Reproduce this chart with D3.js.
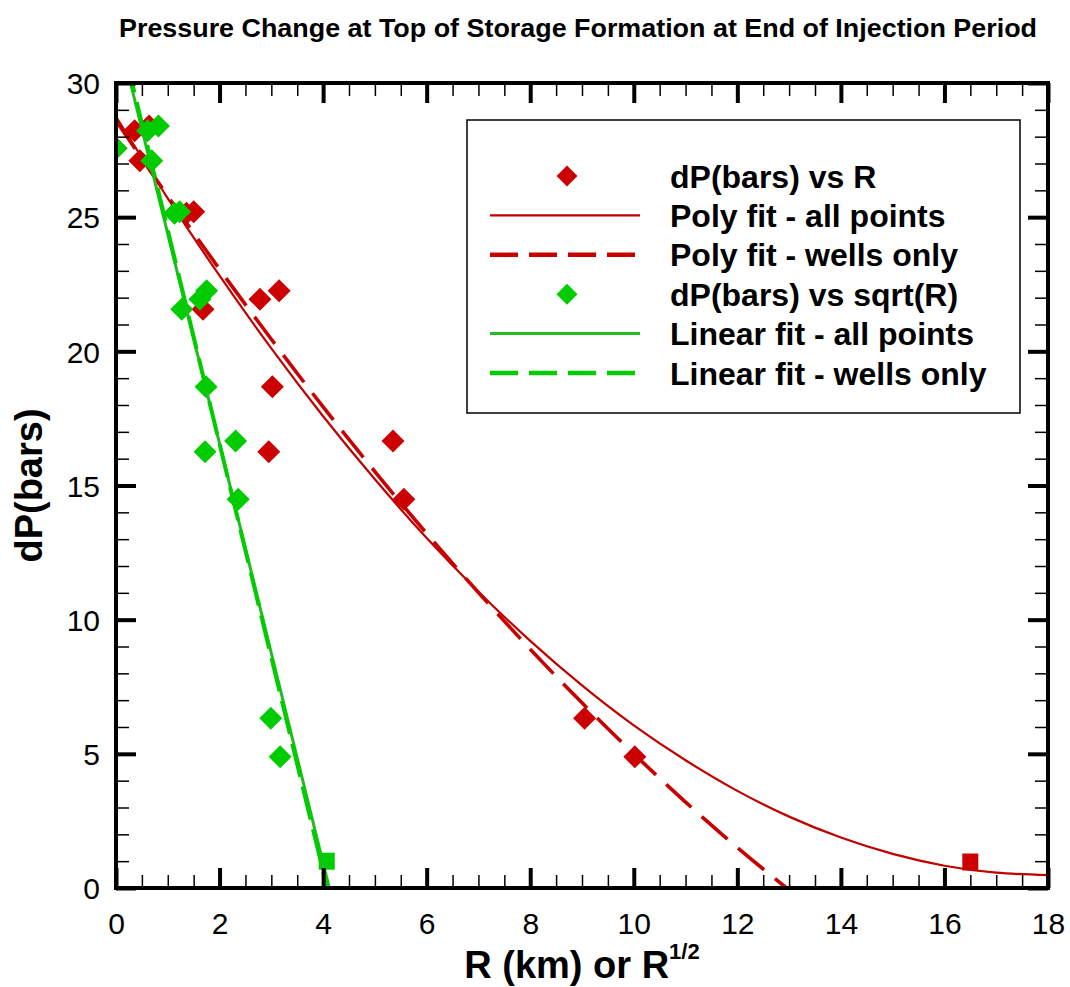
<!DOCTYPE html>
<html>
<head>
<meta charset="utf-8">
<script src="https://cdn.jsdelivr.net/npm/d3@7"></script>
<style>
  body { margin: 0; background: #fff; }
  svg { display: block; font-family: "Liberation Sans", Arial, Helvetica, sans-serif; }
</style>
</head>
<body>
<svg id="chart" width="1070" height="987"></svg>
<script>
// ---- measured pressure change vs distance R (km) ----
const wellR  = [0, 0.36, 0.64, 0.46, 1.36, 1.50, 1.68, 2.78, 3.15, 3.02, 2.95, 5.35, 5.56, 9.05, 10.02];
const wellDP = [27.57, 28.22, 28.40, 27.10, 25.15, 25.20, 21.57, 21.94, 22.26, 18.68, 16.26, 16.66, 14.49, 6.33, 4.89];
// same pressures plotted against sqrt(R)
const wellSqrtR = [0, 0.61, 0.82, 0.69, 1.13, 1.23, 1.27, 1.62, 1.75, 1.74, 1.72, 2.31, 2.36, 2.99, 3.17];
// far-field (non-well) point
const farR = [16.5],  farDP = [0.95];
const farSqrtR = [4.07], farSqrtDP = [0.98];

// polynomial fit through all points
const polyAllR  = [0, 1, 2, 3, 4, 5, 6, 7, 8, 9, 10, 11, 12, 13, 14, 15, 16, 17, 18];
const polyAllDP = [28.75, 25.70, 22.82, 20.11, 17.58, 15.23, 13.04, 11.04, 9.21, 7.55, 6.06, 4.76, 3.62, 2.66, 1.88, 1.27, 0.83, 0.57, 0.48];
// polynomial fit through wells only
const polyWellR  = [0, 1, 2, 3, 4, 5, 6, 7, 8, 9, 10, 11, 12, 12.95];
const polyWellDP = [28.60, 25.78, 23.06, 20.45, 17.93, 15.52, 13.21, 11.01, 8.90, 6.90, 5.00, 3.20, 1.51, 0.0];
// linear fits against sqrt(R)
const linAllX  = [0, 4.12],  linAllDP  = [32.19, 0];
const linWellX = [0, 4.08],  linWellDP = [32.47, 0];

// axis ticks
const xMajor = [0, 2, 4, 6, 8, 10, 12, 14, 16, 18];
const xMinor = d3.range(0, 18.01, 0.5).filter(v => v % 2 !== 0);
const yMajor = [0, 5, 10, 15, 20, 25, 30];
const yMinor = d3.range(0, 30.01, 1).filter(v => v % 5 !== 0);

const legendItems = [
  { label: "dP(bars) vs R",            kind: "mark", color: "#cc0000" },
  { label: "Poly fit - all points",    kind: "line", color: "#c00000", width: 2.2, dash: null },
  { label: "Poly fit - wells only",    kind: "line", color: "#c80000", width: 4.5, dash: "28,11" },
  { label: "dP(bars) vs sqrt(R)",      kind: "mark", color: "#00cc00" },
  { label: "Linear fit - all points",  kind: "line", color: "#22bb22", width: 3, dash: null },
  { label: "Linear fit - wells only",  kind: "line", color: "#00cc00", width: 4.5, dash: "28,11" }
];

const RED = "#cc0000", REDLINE = "#c00000", GREEN = "#00cc00";

const svg = d3.select("#chart");
const W = 1070, H = 987;
const L = 116, R = 1048, T = 83, B = 888;

const x = d3.scaleLinear().domain([0, 18]).range([L, R]);
const y = d3.scaleLinear().domain([0, 30]).range([B, T]);

svg.append("rect").attr("width", W).attr("height", H).attr("fill", "#fff");

// title
svg.append("text")
  .attr("x", 119).attr("y", 37)
  .attr("textLength", 918).attr("lengthAdjust", "spacingAndGlyphs")
  .attr("font-size", 25).attr("font-weight", "bold")
  .text("Pressure Change at Top of Storage Formation at End of Injection Period");

svg.append("defs").append("clipPath").attr("id", "plotClip")
  .append("rect").attr("x", L).attr("y", T).attr("width", R - L).attr("height", B - T);

const plot = svg.append("g").attr("clip-path", "url(#plotClip)");

const line = (xs, ys, curve) => d3.line()
  .x((d, i) => x(xs[i])).y((d, i) => y(ys[i]))
  .curve(curve || d3.curveLinear)(xs);

const diamond = d3.symbol().type(d3.symbolSquare).size(265);

function drawDiamonds(g, xs, ys, color) {
  g.selectAll(null).data(xs).join("path")
    .attr("d", diamond)
    .attr("transform", (d, i) => `translate(${x(xs[i])},${y(ys[i])}) rotate(45)`)
    .attr("fill", color);
}
function drawSquares(g, xs, ys, color) {
  g.selectAll(null).data(xs).join("rect")
    .attr("x", (d, i) => x(xs[i]) - 8).attr("y", (d, i) => y(ys[i]) - 9)
    .attr("width", 16).attr("height", 17)
    .attr("fill", color);
}

// red series: points vs R and polynomial fits
drawDiamonds(plot.append("g"), wellR, wellDP, RED);
drawSquares(plot.append("g"), farR, farDP, RED);
plot.append("path").attr("d", line(polyAllR, polyAllDP, d3.curveNatural))
  .attr("fill", "none").attr("stroke", REDLINE).attr("stroke-width", 2.2);
plot.append("path").attr("d", line(polyWellR, polyWellDP, d3.curveNatural))
  .attr("fill", "none").attr("stroke", "#c80000").attr("stroke-width", 3.6)
  .attr("stroke-dasharray", "34,14");

// green series: points vs sqrt(R) and linear fits
drawDiamonds(plot.append("g"), wellSqrtR, wellDP, GREEN);
drawSquares(plot.append("g"), farSqrtR, farSqrtDP, GREEN);
plot.append("path").attr("d", line(linAllX, linAllDP))
  .attr("fill", "none").attr("stroke", "#22bb22").attr("stroke-width", 3);
plot.append("path").attr("d", line(linWellX, linWellDP))
  .attr("fill", "none").attr("stroke", GREEN).attr("stroke-width", 4)
  .attr("stroke-dasharray", "34,10");

// axes: inward ticks on all four sides
function styleAxis(g, w) {
  g.select(".domain").remove();
  g.selectAll(".tick line").attr("stroke", "#000").attr("stroke-width", w);
}
const axes = svg.append("g");
const addAxis = (gen, tx, ty, vals, size, w, labels) => {
  const g = axes.append("g").attr("transform", `translate(${tx},${ty})`)
    .call(gen.tickValues(vals).tickSize(size).tickSizeOuter(0).tickPadding(0)
      .tickFormat(labels ? d3.format("d") : ""));
  styleAxis(g, w);
  return g;
};
// minor
addAxis(d3.axisBottom(x), 0, B, xMinor, -13, 1.5, false);
addAxis(d3.axisTop(x), 0, T, xMinor, -13, 1.5, false);
addAxis(d3.axisLeft(y), L, 0, yMinor, -13, 1.5, false);
addAxis(d3.axisRight(y), R, 0, yMinor, -13, 1.5, false);
// major
const xb = addAxis(d3.axisBottom(x), 0, B, xMajor, -20, 4, true);
addAxis(d3.axisTop(x), 0, T, xMajor, -20, 4, false);
const yl = addAxis(d3.axisLeft(y), L, 0, yMajor, -20, 4, true);
addAxis(d3.axisRight(y), R, 0, yMajor, -20, 4, false);

xb.selectAll(".tick text")
  .attr("y", 46).attr("dy", 0)
  .attr("font-size", 30).attr("fill", "#000")
  .attr("font-family", "'Liberation Sans', Arial, sans-serif");
yl.selectAll(".tick text")
  .attr("x", -16).attr("dy", "0.36em")
  .attr("font-size", 30).attr("fill", "#000")
  .attr("font-family", "'Liberation Sans', Arial, sans-serif");

// frame
svg.append("rect").attr("x", L).attr("y", T).attr("width", R - L).attr("height", B - T)
  .attr("fill", "none").attr("stroke", "#000").attr("stroke-width", 4);

// axis titles
const xt = svg.append("text")
  .attr("x", (L + R) / 2).attr("y", 978).attr("text-anchor", "middle")
  .attr("font-size", 38).attr("font-weight", "bold");
xt.append("tspan").text("R (km) or R");
xt.append("tspan").attr("font-size", 22).attr("dy", -19).text("1/2");

svg.append("text")
  .attr("transform", `translate(42,${(T + B) / 2}) rotate(-90)`)
  .attr("text-anchor", "middle")
  .attr("font-size", 38).attr("font-weight", "bold")
  .text("dP(bars)");

// legend
const lg = svg.append("g");
lg.append("rect").attr("x", 467).attr("y", 120).attr("width", 553).attr("height", 293)
  .attr("fill", "#fff").attr("stroke", "#000").attr("stroke-width", 1.5);
const rowY = d3.scalePoint().domain(d3.range(legendItems.length)).range([176, 373]);
legendItems.forEach((it, i) => {
  const cy = rowY(i);
  if (it.kind === "mark") {
    lg.append("path").attr("d", d3.symbol().type(d3.symbolSquare).size(220)())
      .attr("transform", `translate(567,${cy}) rotate(45)`).attr("fill", it.color);
  } else {
    lg.append("line").attr("x1", 490).attr("x2", 640).attr("y1", cy).attr("y2", cy)
      .attr("stroke", it.color).attr("stroke-width", it.width)
      .attr("stroke-dasharray", it.dash);
  }
  lg.append("text").attr("x", 670).attr("y", cy).attr("dy", "0.36em")
    .attr("font-size", 32).attr("font-weight", "bold").text(it.label);
});
</script>
</body>
</html>
